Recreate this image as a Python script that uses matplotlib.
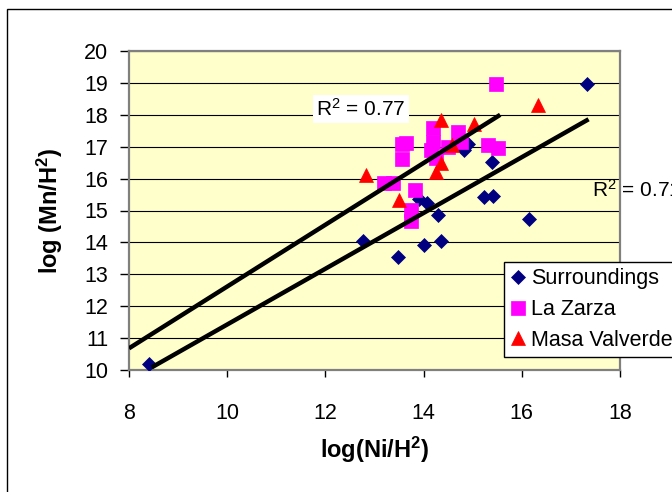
import matplotlib
matplotlib.use("Agg")
import matplotlib.pyplot as plt
from matplotlib.patches import Rectangle

# ---------------- data ----------------
surr_x = [8.41, 12.76, 13.47, 13.90, 14.06, 14.00, 14.35, 14.29, 14.83, 14.91,
          15.39, 15.22, 15.42, 16.15, 17.32]
surr_y = [10.20, 14.05, 13.55, 15.35, 15.24, 13.92, 14.05, 14.85, 16.90, 17.10,
          16.53, 15.42, 15.44, 14.73, 18.97]

zarza_x = [15.48, 13.57, 13.65, 13.57, 14.20, 14.20, 14.16, 14.26, 14.50, 14.71,
           14.77, 15.32, 15.52, 13.19, 13.37, 13.82, 13.75, 13.75]
zarza_y = [18.95, 17.10, 17.12, 16.62, 17.58, 17.16, 16.90, 16.64, 17.00, 17.45,
           17.16, 17.05, 16.95, 15.86, 15.86, 15.64, 15.02, 14.68]

masa_x = [12.83, 13.50, 14.25, 14.35, 14.35, 14.57, 15.03, 16.32]
masa_y = [16.11, 15.33, 16.22, 16.48, 17.84, 17.05, 17.70, 18.31]

# linear trend lines (end points)
trend_upper_x = [8.00, 15.56]
trend_upper_y = [10.68, 18.00]
trend_lower_x = [8.46, 17.36]
trend_lower_y = [10.08, 17.86]

r2_upper = "0.77"
r2_lower = "0.71"

series_names = ["Surroundings", "La Zarza", "Masa Valverde"]
x_ticks = [8, 10, 12, 14, 16, 18]
y_ticks = [10, 11, 12, 13, 14, 15, 16, 17, 18, 19, 20]

# ---------------- style ----------------
plt.rcParams["font.family"] = ["Liberation Sans", "DejaVu Sans"]
plt.rcParams["mathtext.fontset"] = "custom"
plt.rcParams["mathtext.rm"] = "Liberation Sans"
plt.rcParams["mathtext.it"] = "Liberation Sans:italic"
plt.rcParams["mathtext.bf"] = "Liberation Sans:bold"

W, H = 672, 492
fig = plt.figure(figsize=(W / 100, H / 100), dpi=100)
fig.patch.set_facecolor("white")

# outer chart border (extends beyond right/bottom edge like the reference)
fig.add_artist(Rectangle((7 / W, -0.2), 2.0, 1 - 9 / H + 0.2,
                         transform=fig.transFigure, fill=False,
                         edgecolor="black", linewidth=1.0))

ax = fig.add_axes([129 / W, 1 - 370 / H, 491 / W, 319 / H])
ax.set_facecolor("#FFFFCC")

ax.plot(surr_x, surr_y, linestyle="none", marker="D", markersize=7.2,
        color="#000080", markeredgecolor="#000080", markeredgewidth=0.5,
        label=series_names[0], zorder=3)
ax.plot(zarza_x, zarza_y, linestyle="none", marker="s", markersize=10.5,
        color="#FF00FF", markeredgecolor="#FF00FF", markeredgewidth=0.5,
        label=series_names[1], zorder=3)
ax.plot(masa_x, masa_y, linestyle="none", marker="^", markersize=10.5,
        color="#FF0000", markeredgecolor="#FF0000", markeredgewidth=0.5,
        label=series_names[2], zorder=3)

ax.plot(trend_upper_x, trend_upper_y, color="black", linewidth=3.2,
        solid_capstyle="butt", zorder=5)
ax.plot(trend_lower_x, trend_lower_y, color="black", linewidth=3.2,
        solid_capstyle="butt", zorder=5)

ax.set_xlim(8, 18)
ax.set_ylim(10, 20)
ax.set_xticks(x_ticks)
ax.set_yticks(y_ticks)
ax.tick_params(axis="both", labelsize=15.5, colors="black", width=1.0,
               direction="out")
ax.tick_params(axis="x", length=5, pad=19)
ax.tick_params(axis="y", length=6.5, pad=8.5)

ax.set_axisbelow(True)
ax.yaxis.grid(True, color="black", linewidth=0.8)
ax.xaxis.grid(False)
for s in ax.spines.values():
    s.set_color("#808080")
    s.set_linewidth(1.6)

ax.set_xlabel(r"log(Ni/H$^\mathbf{2}$)", fontsize=17, fontweight="bold")
ax.set_ylabel(r"log (Mn/H$^\mathbf{2}$)", fontsize=17, fontweight="bold")
ax.xaxis.label.set_verticalalignment("center")
ax.xaxis.set_label_coords(0.5, (370 - 450) / 319)
ax.yaxis.label.set_verticalalignment("center")
ax.yaxis.set_label_coords((50 - 129) / 491, 0.5)

ax.text(11.81, 17.96, r"R$^2$ = " + r2_upper, fontsize=15, ha="left",
        va="baseline", zorder=6,
        bbox=dict(boxstyle="square,pad=0.15", facecolor="white",
                  edgecolor="none"))
ax.text(17.43, 15.42, r"R$^2$ = " + r2_lower, fontsize=15, ha="left",
        va="baseline", zorder=6, clip_on=False)

leg = ax.legend(loc="upper left", bbox_to_anchor=(504 / W, 1 - 262 / H),
                bbox_transform=fig.transFigure, fontsize=15.5, frameon=True,
                fancybox=False, shadow=False, framealpha=1, edgecolor="black",
                borderpad=0.3, labelspacing=0.45, handlelength=0.7,
                handletextpad=0.25, borderaxespad=0, numpoints=1)
leg.get_frame().set_linewidth(1.0)
leg.set_zorder(10)

fig.savefig("out.png", dpi=100)
